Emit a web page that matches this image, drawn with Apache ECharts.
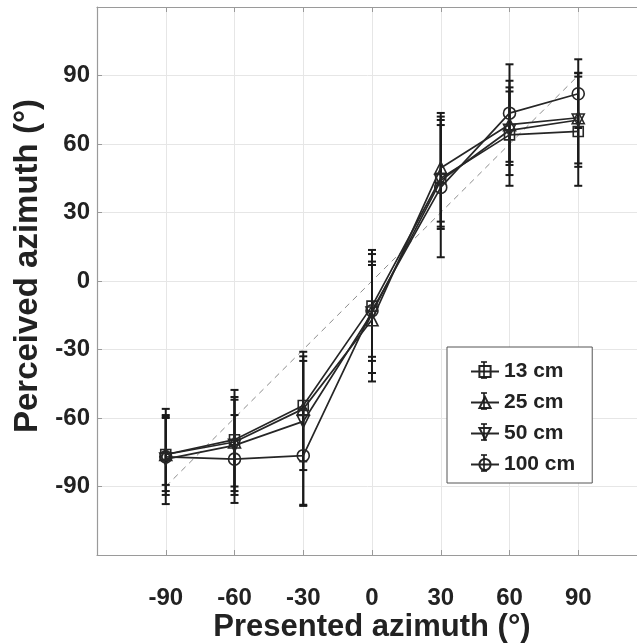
<!DOCTYPE html>
<html>
<head>
<meta charset="utf-8">
<script src="https://cdn.jsdelivr.net/npm/echarts@6/dist/echarts.min.js"></script>
<style>html,body{margin:0;padding:0;background:#fff}#c{width:637px;height:643px}</style>
</head>
<body>
<div id="c"></div>
<script>
// ---- data ----
const presented = [-90, -60, -30, 0, 30, 60, 90];
const tickValues = [-90, -60, -30, 0, 30, 60, 90];
const seriesNames = ['13 cm', '25 cm', '50 cm', '100 cm'];

const mean13 = [-76, -69.5, -54.5, -11, 45, 64, 65.5];
const mean25 = [-76, -70.5, -56, -17, 49.5, 68.5, 71.5];
const mean50 = [-78, -72, -61.5, -14, 44, 66, 70.5];
const mean100 = [-77, -78, -76.5, -13, 41, 73.5, 82];

const low13 = [-97.7, -92, -79, -35, 22.8, 46.4, 41.7];
const high13 = [-56, -47.7, -31, 13.6, 68.3, 84.8, 89.5];
const low25 = [-93.7, -90, -82.8, -44, 26, 50.8, 51.5];
const high25 = [-58.7, -50.8, -33, 8.5, 73.6, 87.7, 91.2];
const low50 = [-92, -93.7, -98.5, -40.3, 23.8, 52.2, 50];
const high50 = [-59.4, -52, -35, 11.8, 70.5, 83, 91];
const low100 = [-89.3, -97.2, -98, -33.2, 10.4, 41.7, 67];
const high100 = [-60, -58.7, -56, 7, 72, 94.9, 97.1];

const refLine = [[-90, -90], [90, 90]];

// ---- chart ----
const FONT = "'Liberation Sans', Arial, sans-serif";
const TXT = '#222';
const LINE = '#262626';
const chart = echarts.init(document.getElementById('c'), null, {renderer: 'canvas'});

const means = [mean13, mean25, mean50, mean100];
const lows = [low13, low25, low50, low100];
const highs = [high13, high25, high50, high100];
const symbols = ['rect', 'triangle', 'triangle', 'circle'];
const rotates = [0, 0, 180, 0];
const sizes = [10, 12, 12, 12];

const series = [];
series.push({
  type: 'line', name: 'ref', data: refLine, symbol: 'none', silent: true,
  lineStyle: {color: '#8c8c8c', width: 1, type: [6, 5]}, z: 1
});
seriesNames.forEach((name, s) => {
  const ebData = presented.map((x, i) => [x, lows[s][i], highs[s][i]]);
  series.push({
    type: 'custom', name: name + ' err', data: ebData, z: 3, silent: true,
    renderItem: (params, api) => {
      const x = api.value(0);
      const lo = api.coord([x, api.value(1)]);
      const hi = api.coord([x, api.value(2)]);
      const w = 4;
      const st = {stroke: '#1a1a1a', lineWidth: 2};
      return {type: 'group', children: [
        {type: 'line', shape: {x1: lo[0], y1: lo[1], x2: hi[0], y2: hi[1]}, style: st},
        {type: 'line', shape: {x1: lo[0]-w, y1: lo[1], x2: lo[0]+w, y2: lo[1]}, style: st},
        {type: 'line', shape: {x1: hi[0]-w, y1: hi[1], x2: hi[0]+w, y2: hi[1]}, style: st}
      ]};
    }
  });
  series.push({
    type: 'line', name: name, z: 4,
    data: presented.map((x, i) => [x, means[s][i]]),
    symbol: symbols[s], symbolRotate: rotates[s], symbolSize: sizes[s],
    showSymbol: true,
    lineStyle: {color: LINE, width: 1.7},
    itemStyle: {color: 'rgba(255,255,255,0)', borderColor: LINE, borderWidth: 1.6}
  });
});

const axisCommon = {
  min: -120, max: 120, interval: 30,
  axisLine: {show: true, onZero: false, lineStyle: {color: '#9a9a9a', width: 1.2}},
  axisTick: {show: true, inside: true, length: 5, lineStyle: {color: '#9a9a9a'}},
};

// legend error-bar glyphs (decoration only)
const legendRows = [370, 401, 432, 463];
const legendIconX = 484;
const graphics = [];
legendRows.forEach(y => {
  const st = {stroke: '#1a1a1a', lineWidth: 1.6};
  graphics.push({type: 'line', z: 200, shape: {x1: legendIconX, y1: y - 8, x2: legendIconX, y2: y + 8}, style: st});
  graphics.push({type: 'line', z: 200, shape: {x1: legendIconX - 3, y1: y - 8, x2: legendIconX + 3, y2: y - 8}, style: st});
  graphics.push({type: 'line', z: 200, shape: {x1: legendIconX - 3, y1: y + 8, x2: legendIconX + 3, y2: y + 8}, style: st});
});

chart.setOption({
  animation: false,
  backgroundColor: '#fff',
  grid: {left: 97, top: 7, width: 550, height: 548, containLabel: false, outerBoundsMode: 'none'},
  xAxis: [Object.assign({}, axisCommon, {
    type: 'value', position: 'bottom',
    name: 'Presented azimuth (°)', nameLocation: 'middle', nameGap: 57, nameMoveOverlap: false,
    nameTextStyle: {fontFamily: FONT, fontWeight: 'bold', fontSize: 31, color: TXT},
    axisLabel: {margin: 31, fontFamily: FONT, fontWeight: 'bold', fontSize: 24, color: TXT,
      formatter: v => tickValues.includes(v) ? String(v) : ''},
    splitLine: {show: true, lineStyle: {color: '#e6e6e6', width: 1}}
  }), Object.assign({}, axisCommon, {
    type: 'value', position: 'top',
    axisLabel: {show: false}, splitLine: {show: false}
  })],
  yAxis: Object.assign({}, axisCommon, {
    type: 'value',
    name: 'Perceived azimuth (°)', nameLocation: 'middle', nameGap: 51, nameRotate: 90,
    nameTextStyle: {fontFamily: FONT, fontWeight: 'bold', fontSize: 33, color: TXT, padding: [0, 0, 0, 30]},
    axisLabel: {margin: 7, fontFamily: FONT, fontWeight: 'bold', fontSize: 24, color: TXT,
      formatter: v => tickValues.includes(v) ? String(v) : ''},
    splitLine: {show: true, lineStyle: {color: '#e6e6e6', width: 1}}
  }),
  legend: {
    data: seriesNames, orient: 'vertical', left: 447, top: 347,
    backgroundColor: '#fff', borderColor: '#555', borderWidth: 1,
    padding: [14, 17, 8, 23], itemWidth: 28, itemHeight: 14, itemGap: 10,
    textStyle: {fontFamily: FONT, fontWeight: 'bold', fontSize: 21, color: TXT, lineHeight: 20},
    selectedMode: false
  },
  graphic: graphics,
  series: series
});
</script>
</body>
</html>
